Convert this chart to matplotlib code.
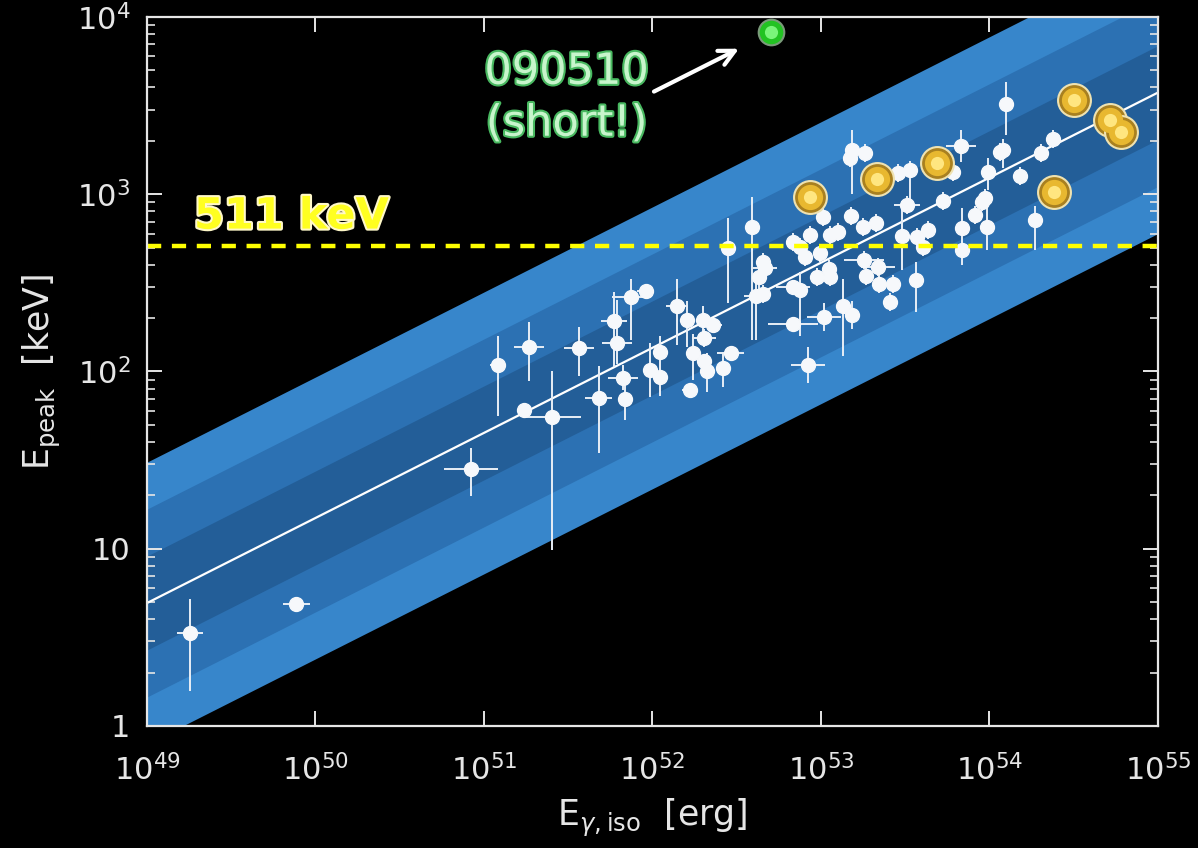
import numpy as np
import matplotlib
matplotlib.use("Agg")
import matplotlib.pyplot as plt
import matplotlib.patheffects as pe

# ─── Данные: E_iso (в 1e52 эрг), E_peak (кэВ), ошибки в декадах ────────────────

E_ISO = [0.0018, 0.0077, 0.084, 0.121, 0.173, 0.253, 0.185, 0.366, 0.481, 0.591,
         0.616, 0.668, 0.687, 0.745, 0.914, 1.40, 1.60, 1.99, 2.29, 2.02,
         1.11, 0.966, 1.11, 1.74, 2.02, 2.11, 2.62, 2.92, 1.67, 3.90,
         2.81, 4.11, 4.53, 4.29, 4.65, 4.53, 6.82, 7.51, 6.82, 8.37,
         9.47, 11.1, 11.3, 10.4, 13.5, 15.3, 7.51, 6.82, 8.03, 8.61,
         10.3, 11.3, 12.6, 15.1, 17.7, 21.2, 18.0, 21.8, 18.5, 22.1,
         26.7, 25.6, 36.6, 32.4, 30.2, 37.2, 43.2, 40.3, 53.0, 68.7,
         68.7, 82.0, 90.3, 96.6, 94.0, 186, 15.3, 14.9, 18.2, 28.6,
         33.7, 60.7, 67.7, 98.0, 115, 125, 120, 238, 202, 152, 9.8]
E_PEAK = [3.35, 4.9, 28, 109, 61, 55, 137, 136, 71, 193,
          145, 92, 70, 263, 285, 234, 195, 195, 183, 155,
          129, 102, 93, 127, 115, 101, 105, 127, 79, 653,
          497, 267, 274, 341, 384, 415, 300, 288, 185, 109,
          341, 379, 341, 203, 234, 208, 504, 538, 443, 589,
          744, 589, 612, 754, 653, 689, 426, 389, 346, 312,
          312, 247, 328, 869, 581, 574, 629, 504, 916, 645,
          485, 764, 904, 653, 952, 716, 1778, 1601, 1710, 1318,
          1370, 1335, 1872, 1335, 1731, 3230, 1778, 2050, 1710, 1268, 466]
DEX_X = [0.075, 0.08, 0.16, 0.05, 0.03, 0.17, 0.09, 0.09, 0.08, 0.075,
         0.09, 0.09, 0.03, 0.11, 0.05, 0.065, 0.03, 0.04, 0.05, 0.07,
         0.04, 0.03, 0.04, 0.03, 0.04, 0.04, 0.04, 0.08, 0.05, 0.03,
         0.03, 0.07, 0.04, 0.04, 0.07, 0.03, 0.10, 0.04, 0.15, 0.10,
         0.04, 0.04, 0.05, 0.10, 0.04, 0.04, 0.04, 0.04, 0.04, 0.04,
         0.04, 0.04, 0.04, 0.04, 0.04, 0.04, 0.12, 0.10, 0.04, 0.04,
         0.04, 0.04, 0.04, 0.08, 0.04, 0.04, 0.04, 0.04, 0.04, 0.04,
         0.04, 0.04, 0.04, 0.04, 0.04, 0.04, 0.04, 0.04, 0.04, 0.04,
         0.04, 0.04, 0.09, 0.04, 0.04, 0.04, 0.04, 0.04, 0.04, 0.04, 0.04]
DEX_LO = [0.33, 0.02, 0.15, 0.29, 0.02, 0.75, 0.19, 0.16, 0.31, 0.26,
          0.12, 0.07, 0.12, 0.24, 0.03, 0.22, 0.15, 0.08, 0.03, 0.05,
          0.25, 0.15, 0.04, 0.15, 0.04, 0.12, 0.11, 0.04, 0.02, 0.64,
          0.31, 0.25, 0.05, 0.10, 0.05, 0.05, 0.04, 0.26, 0.04, 0.10,
          0.05, 0.05, 0.05, 0.08, 0.28, 0.08, 0.05, 0.05, 0.05, 0.05,
          0.05, 0.05, 0.05, 0.05, 0.05, 0.05, 0.05, 0.05, 0.05, 0.05,
          0.05, 0.05, 0.18, 0.05, 0.19, 0.05, 0.05, 0.05, 0.05, 0.21,
          0.05, 0.05, 0.05, 0.13, 0.05, 0.17, 0.25, 0.05, 0.05, 0.05,
          0.20, 0.05, 0.09, 0.10, 0.05, 0.175, 0.10, 0.05, 0.05, 0.05, 0.05]
DEX_HI = [0.19, 0.02, 0.12, 0.16, 0.02, 0.26, 0.14, 0.12, 0.18, 0.16,
          0.24, 0.07, 0.12, 0.10, 0.03, 0.15, 0.11, 0.08, 0.03, 0.05,
          0.09, 0.15, 0.04, 0.11, 0.04, 0.10, 0.09, 0.04, 0.02, 0.17,
          0.17, 0.09, 0.05, 0.10, 0.05, 0.05, 0.04, 0.10, 0.04, 0.10,
          0.05, 0.05, 0.05, 0.08, 0.15, 0.08, 0.05, 0.05, 0.05, 0.05,
          0.05, 0.05, 0.05, 0.05, 0.05, 0.05, 0.05, 0.05, 0.05, 0.05,
          0.05, 0.05, 0.10, 0.05, 0.20, 0.05, 0.05, 0.05, 0.05, 0.11,
          0.05, 0.05, 0.05, 0.15, 0.05, 0.08, 0.11, 0.05, 0.05, 0.05,
          0.05, 0.05, 0.09, 0.08, 0.05, 0.124, 0.06, 0.05, 0.05, 0.05, 0.05]

# Fermi/LAT всплески (золотые шары) и короткий 090510
GOLD_EISO = [8.61, 21.5, 48.8, 241, 317, 519, 603]
GOLD_EPEAK = [966, 1219, 1500, 1030, 3403, 2624, 2245]
SHORT_EISO = 5.05
SHORT_EPEAK = 8230

# Соотношение Амати: Ep = K * (Eiso / 1e52)^m, разброс sigma (дек.)
FIT_NORM = 136.0
FIT_SLOPE = 0.48
FIT_SIGMA = 0.265

PAIR_LINE = 511.0

# ─── Рисование ────────────────────────────────────────────────────────────────

fig = plt.figure(figsize=(11.98, 8.48), dpi=100, facecolor='black')
ax = fig.add_axes([0.1227, 0.1439, 0.8439, 0.8361], facecolor='black')
ax.set_xscale('log')
ax.set_yscale('log')
ax.set_xlim(1e49, 1e55)
ax.set_ylim(1, 1e4)

# полосы 1, 2, 3 sigma
xg = np.logspace(49, 55, 200)
yfit = FIT_NORM * (xg / 1e52) ** FIT_SLOPE
band_colors = ['#3786cb', '#2c71b3', '#235e98']
for k, col in zip([3, 2, 1], band_colors):
    f = 10 ** (k * FIT_SIGMA)
    ax.fill_between(xg, yfit / f, yfit * f, color=col, lw=0, zorder=1)
ax.plot(xg, yfit, color='white', lw=1.6, zorder=2)

# точки с ошибками
x = np.array(E_ISO) * 1e52
y = np.array(E_PEAK, dtype=float)
dx = np.array(DEX_X)
xerr = [x - x / 10 ** dx, x * 10 ** dx - x]
yerr = [y - y / 10 ** np.array(DEX_LO), y * 10 ** np.array(DEX_HI) - y]
ax.errorbar(x, y, xerr=xerr, yerr=yerr, fmt='o', ms=10, mfc='#f6f8fb',
            mec='#f6f8fb', ecolor='#e8eef6', elinewidth=1.4, capsize=0, zorder=3)

# линия 511 кэВ
ax.axhline(PAIR_LINE, color='#ffff00', lw=3.2, dashes=(3.2, 2.4), zorder=4)
ax.text(1.9e49, 640, '511 keV', color='#ffff20', fontsize=31, fontweight='bold',
        zorder=6, path_effects=[pe.Stroke(linewidth=3, foreground='#fff8c8'), pe.Normal()])

# золотые шары
gx = np.array(GOLD_EISO) * 1e52
ax.scatter(gx, GOLD_EPEAK, s=560, color='#a88020', edgecolor='#efe2b0', lw=1.5, zorder=7)
ax.scatter(gx, GOLD_EPEAK, s=330, color='#e8b830', lw=0, zorder=8)
ax.scatter(gx, GOLD_EPEAK, s=90, color='#ffe680', lw=0, zorder=9)

# 090510
ax.scatter([SHORT_EISO * 1e52], [SHORT_EPEAK], s=340, color='#22c322',
           edgecolor='#7a9a7a', lw=1.5, zorder=7)
ax.scatter([SHORT_EISO * 1e52], [SHORT_EPEAK], s=90, color='#7af57a', lw=0, zorder=8)
ax.text(0.415, 0.886, '090510\n(short!)', transform=ax.transAxes, ha='center', va='center',
        color='#c8f5cc', fontsize=31, linespacing=1.3, zorder=6,
        path_effects=[pe.Stroke(linewidth=3, foreground='#48b860'), pe.Normal()])
ax.annotate('', xy=(0.588, 0.957), xytext=(0.499, 0.893), xycoords='axes fraction',
            arrowprops=dict(arrowstyle='->', color='white', lw=3, mutation_scale=28))

# оси
for sp in ax.spines.values():
    sp.set_color('#e6e6e6')
    sp.set_linewidth(1.6)
    sp.set_zorder(10)
ax.tick_params(which='both', direction='in', top=True, right=True, color='#e6e6e6',
               labelcolor='#e6e6e6', labelsize=22)
ax.tick_params(axis='x', pad=20)
ax.tick_params(axis='y', pad=12)
ax.tick_params(which='major', length=11, width=1.4)
ax.tick_params(which='minor', length=6, width=1.2)
ax.set_xticks([10.0 ** p for p in range(49, 56)])
ax.set_xticklabels([r'$10^{%d}$' % p for p in range(49, 56)])
ax.xaxis.set_minor_locator(matplotlib.ticker.NullLocator())
ax.set_yticks([1, 10, 100, 1000, 10000])
ax.set_yticklabels(['1', '10', r'$10^{2}$', r'$10^{3}$', r'$10^{4}$'])

ax.set_xlabel(r'E$_{\gamma,\mathrm{iso}}$  [erg]', color='#e6e6e6', fontsize=25, labelpad=8)
ax.set_ylabel(r'E$_{\mathrm{peak}}$  [keV]', color='#e6e6e6', fontsize=25, labelpad=10)

fig.savefig('out.png', dpi=100, facecolor='black')
